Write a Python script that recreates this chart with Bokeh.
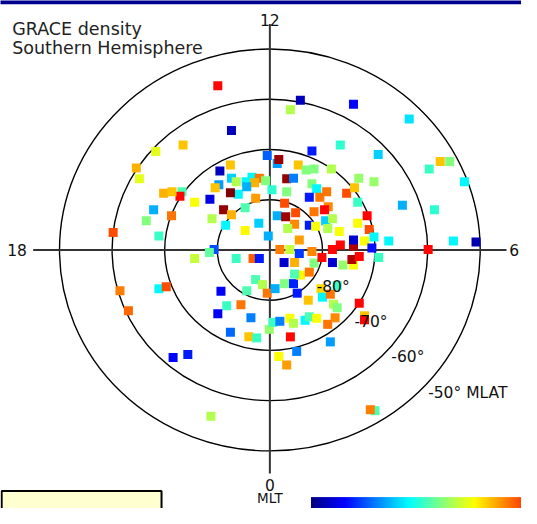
import numpy as np
from bokeh.plotting import figure
from bokeh.models import ColumnDataSource, LinearColorMapper, Range1d
from bokeh.core.properties import value
from bokeh.embed import file_html
from bokeh.resources import INLINE

# ---------------- data ----------------
# Position of each GRACE sample in polar projection, in degrees of
# colatitude from the south magnetic pole (x toward 06 MLT, y toward 12 MLT)
x_deg = [-16.7, 1.4, 20.0, 11.1, -9.7, -6.0, 18.0, 6.7,
         -9.9, -7.3, -16.5, -21.7, -25.4, -24.8, -0.5, -9.5, -7.5, -7.3, -6.4, -4.5, -3.4, -2.0, -2.9, -0.8, -4.4,
         -10.4, -7.5, -11.4, -14.3, -2.7, 0.4, -17.1, -20.2, -18.6, -22.1, -23.5, -18.7, -21.1, -8.8, -7.3, -4.7,
         -11.0, -8.4, -4.7, -2.1, -0.3, -10.6, -11.5, -29.8, -14.3, -6.4, -3.2, -2.0, -21.1, -19.7, -28.5, -26.9,
         -9.3, -8.2, -5.5, -9.9, -3.6, -2.7, -1.4, -4.4, -0.5, -7.5, -4.0, -2.5, -0.1, -18.4, -15.6, -11.2,
         1.0, 2.8, 4.5, 5.2, 5.8, 7.5, 4.7, 1.9, 3.8, 5.6, 2.7, 4.7, 8.0, 8.4, 9.9, 11.9, 13.9, 15.9, 15.6, 17.0,
         13.4, 11.9, 15.9, 15.9, 18.0, 19.4, 20.7, 22.6, 9.7, 10.0, 11.5, 12.8, 7.3, 12.1, 12.8, 7.5, 8.9, 11.0,
         12.4, 17.0, 18.0, 11.5, 5.1, 3.9, 1.7, 3.2, 0.6, 1.9, 3.8, 4.5, 19.1,
         5.8, 3.9, 15.9, 26.5, 8.0, 13.4, 20.6, 1.7, 5.4, 6.9, 8.4, 11.7, 16.9, 19.8, 3.2, 4.5, 3.2, 8.0, 8.9,
         10.8, 9.5, 7.5, 14.6, 16.1, 16.7, 2.8, 1.4, 3.0, 4.9, 8.4, 10.4, 18.5, 4.7, 3.4, 7.5, 8.7, 10.6, 11.9,
         11.0, 13.2, 16.7, 18.9, 19.8, 5.6, 32.4, 34.2, 30.3, 37.0, 25.2, 31.3, 34.9, 39.2, 30.1]
y_deg = [11.6, 17.2, -32.0, 8.6, 13.0, 11.1, -13.1, -14.0,
         32.7, 23.8, 20.9, 19.6, 16.3, 14.2, 18.8, 15.7, 16.9, 14.3, 13.6, 13.6, 14.5, 14.3, 13.4, 13.8, 12.6,
         12.4, 11.4, 10.1, 9.5, 10.3, 12.0, 10.7, 11.3, 11.6, 8.0, 5.8, 6.8, 2.8, 8.0, 7.0, 8.4,
         6.2, 4.9, 3.9, 5.3, 2.8, 0.1, -0.5, 3.5, -1.7, -1.7, -1.7, -1.7, -7.7, -7.3, -8.1, -12.1,
         -8.2, -11.1, -10.9, -12.7, -13.5, -5.9, -6.9, -8.1, -8.6, -16.4, -17.3, -17.5, -15.8, -21.4, -20.8, -33.1,
         -7.7, -6.7, -6.7, -8.6, -5.0, -4.4, -4.8, 0.1, 0.1, -0.7, -2.5, -2.5, -0.3, -2.6, -1.5, -2.5, -3.0, -3.0, -1.9, -1.3,
         1.0, 0.1, 0.8, 2.0, 1.8, 0.4, -1.5, 1.8, -7.7, -9.4, -8.8, -7.1, -10.0, -10.8, -11.5, -13.3, -13.6, -14.8,
         -13.5, -10.6, -13.9, -18.3, -20.2, -17.3, -21.2, -22.9, -14.4, -14.2, -13.6, -14.6, -31.8,
         29.8, 27.9, 29.0, 26.1, 19.7, 20.9, 19.0, 18.0, 16.9, 15.9, 16.1, 16.1, 14.3, 13.6, 14.2, 14.3, 11.6, 13.2, 12.2,
         11.6, 10.5, 10.5, 11.3, 12.4, 9.5, 9.3, 6.8, 6.6, 7.4, 7.6, 8.0, 6.8, 5.1, 4.3, 4.9, 4.7, 5.8, 6.2,
         4.3, 3.7, 5.3, 4.1, 2.6, 2.0, 17.6, 17.6, 16.1, 13.6, 8.9, 8.0, 1.8, 1.6, 0.1]
# normalised neutral density (colour-scale position, 0 = low, 1 = high)
density = [0.45, 0.28, 0.45, 0.74, 0.28, 0.37, 0.68, 0.37,
           0.87, 0.06, 0.68, 0.60, 0.70, 0.60, 0.22, 0.06, 0.68, 0.33, 0.55, 0.37, 0.37, 0.76, 0.70, 0.50, 0.30,
           0.68, 1.00, 0.10, 0.62, 0.72, 0.42, 0.87, 0.70, 0.68, 0.30, 0.50, 0.76, 0.43, 0.98, 0.70, 0.45,
           0.55, 0.37, 0.63, 0.33, 0.30, 0.20, 0.47, 0.80, 0.57, 0.43, 0.78, 0.15, 0.37, 0.80, 0.75, 0.77,
           0.12, 0.43, 0.76, 0.12, 0.25, 0.45, 0.55, 0.45, 0.76, 0.23, 0.68, 0.43, 0.52, 0.13, 0.15, 0.55,
           0.30, 0.50, 0.16, 0.15, 0.63, 0.76, 0.45, 0.75, 0.57, 0.18, 0.08, 0.70, 0.74, 0.50, 0.87, 0.08, 0.52, 0.62, 0.95, 0.87,
           0.87, 0.87, 0.95, 0.08, 0.62, 0.14, 0.43, 0.37, 0.66, 0.37, 0.76, 0.43, 0.68, 0.55, 0.50, 0.45, 0.62, 0.76,
           0.74, 0.87, 0.87, 0.28, 0.25, 0.87, 0.62, 0.72, 0.43, 0.25, 0.62, 0.55, 0.75,
           0.06, 0.55, 0.13, 0.35, 0.15, 0.42, 0.33, 0.97, 0.68, 0.50, 0.50, 0.55, 0.52, 0.52, 0.98, 0.25, 0.50, 0.50, 0.37,
           0.76, 0.76, 0.15, 0.80, 0.68, 0.43, 0.80, 0.30, 0.97, 0.80, 0.76, 0.87, 0.87, 0.74, 0.55, 0.15, 0.62, 0.33, 0.55,
           0.55, 0.62, 0.62, 0.80, 0.37, 0.72, 0.68, 0.50, 0.43, 0.37, 0.30, 0.42, 0.37, 0.05, 0.87]

mlat_rings = [-80, -70, -60, -50]
ring_labels = ["-80°", "-70°", "-60°", "-50° MLAT"]
mlt_labels = ["12", "18", "6", "0"]
title_lines = ["GRACE density", "Southern Hemisphere"]
axis_title = "MLT"


# ---------------- colour map (jet) ----------------
def jet_hex(t):
    r = min(max(1.5 - abs(4 * t - 3), 0), 1)
    g = min(max(1.5 - abs(4 * t - 2), 0), 1)
    b = min(max(1.5 - abs(4 * t - 1), 0), 1)
    return "#%02x%02x%02x" % (int(round(r * 255)), int(round(g * 255)), int(round(b * 255)))


jet256 = [jet_hex(i / 255) for i in range(256)]
mapper = LinearColorMapper(palette=jet256, low=0, high=1)

# ---------------- figure ----------------
p = figure(width=521, height=508,
           x_range=Range1d(-51.22, 47.85), y_range=Range1d(-51.47, 49.67),
           output_backend="svg", toolbar_location=None, min_border=0,
           x_axis_location=None, y_axis_location=None)
p.grid.grid_line_color = None
p.outline_line_color = None
p.background_fill_color = "white"
p.border_fill_color = "white"

FONT = value("DejaVu Sans")

# top blue band
p.quad(left=-52, right=49, bottom=48.9, top=51, fill_color="#00008c", line_color=None)

# MLAT rings
colat = [90 - abs(m) for m in mlat_rings]
p.ellipse(x=[0] * len(colat), y=[0] * len(colat), width=[2 * c for c in colat],
          height=[2 * c for c in colat], fill_color=None, line_color="black", line_width=1.4)

# MLT cross
p.segment(x0=[-45, 0], y0=[0, -44.5], x1=[45, 0], y1=[0, 45], line_color="#333333", line_width=2)

# data points
src = ColumnDataSource(dict(x=x_deg, y=y_deg, v=density))
p.scatter(x="x", y="y", source=src, marker="square", size=9,
          fill_color={"field": "v", "transform": mapper}, line_color=None)

# ring labels
p.text(x=[8.9, 16.1, 23.1, 30.1], y=[-7.3, -14.4, -21.4, -28.5], text=ring_labels,
       text_font=FONT, text_font_size="15.5px", text_color="#111111",
       text_align="left", text_baseline="alphabetic")

# MLT labels
p.text(x=[0, -46.2, 45.5, 0], y=[45.8, -0.1, -0.1, -46.8], text=mlt_labels,
       text_align=["center", "right", "left", "center"],
       text_font=FONT, text_font_size="15.5px", text_color="#111111", text_baseline="alphabetic")
p.text(x=[0], y=[-49.3], text=[axis_title], text_align="center", text_baseline="alphabetic",
       text_font=FONT, text_font_size="13.5px", text_color="#111111")

# title
p.text(x=[-49.0, -49.0], y=[44.0, 40.2], text=title_lines, text_align="left",
       text_baseline="alphabetic", text_font=FONT, text_font_size="17.5px", text_color="#222222")

# yellow box bottom-left
p.quad(left=-51.0, right=-20.6, bottom=-53, top=-48.0, fill_color="#ffffd0",
       line_color="black", line_width=2)

# colour bar
p.image(image=[np.linspace(0, 1, 256).reshape(1, -1)], x=7.82, y=-52.5, dw=49.5, dh=3.3,
        color_mapper=mapper)

open("out.html", "w").write(file_html(p, INLINE))
